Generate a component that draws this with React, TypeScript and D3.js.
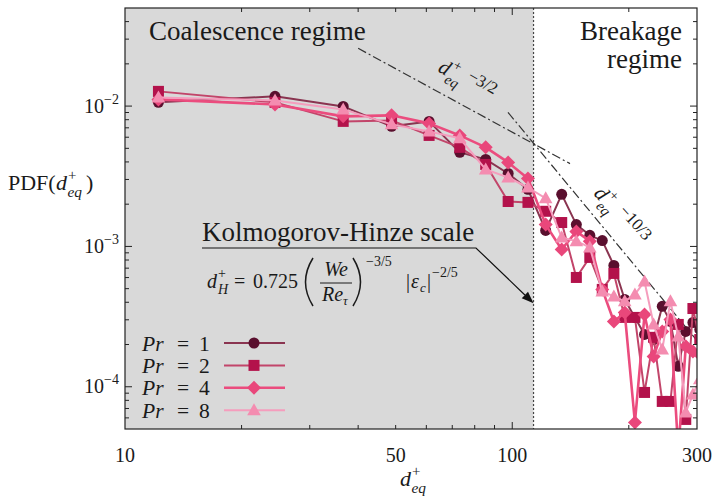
import React from "react";
import * as d3 from "d3";

// bin centres of the equivalent diameter histogram
const dBins = [12.2, 24.4, 36.6, 48.8, 61, 73.2, 85.4, 97.6, 109.8, 122, 134.2, 146.4, 158.6,
  170.8, 183, 195.2, 207.4, 219.6, 231.8, 244, 256.2, 268.4, 280.6, 292.8, 305];

const pdfPr1 = [0.01063, 0.01173, 0.00995, 0.00717, 0.00778, 0.00468, 0.00417, 0.00331, 0.00255,
  0.0013, 0.00235, 0.00143, 0.0012, 0.0011, 0.000732, 0.000419, 0.000312, 0.000236, 0.000217,
  0.000374, 0.000292, 0.00014, 0.000248, 0.000287, 0.000256];
const pdfPr2 = [0.01273, 0.01063, 0.00778, 0.00791, 0.00618, 0.00508, 0.00384, 0.00209, 0.00206,
  0.00178, 0.00148, 0.000601, 0.000835, 0.000494, 0.000642, 0.000312, 0.000312, 0.0000911,
  0.000225, 0.0000786, 0.0000786, 0.000278, 0.0000585, 0.000361, 0.000217];
const pdfPr4 = [0.01116, 0.01028, 0.00845, 0.00859, 0.00753, 0.00618, 0.00508, 0.00397, 0.00305,
  0.00143, 0.000952, 0.00128, 0.00109, 0.000494, 0.000292, 0.000338, 0.0000557, 0.000327,
  0.000164, 0.000248, 0.000302, 0.000035, 0.000194, 0.000178, 0.00017];
const pdfPr8 = [0.01153, 0.01098, 0.00947, 0.00741, 0.0066, 0.00589, 0.00354, 0.0031, 0.00263,
  0.0022, 0.00116, 0.00109, 0.000984, 0.000478, 0.00044, 0.000406, 0.000455, 0.000563, 0.000278,
  0.000184, 0.000406, 0.000228, 0.0000656, 0.0000881, 0.000113];

const prValues = ["1", "2", "4", "8"];
const markerColors = ["#5a0f2e", "#b3124b", "#e9477b", "#f48cb0"];
const lineColors = ["#8a3450", "#c2456a", "#eb4c7e", "#f59dbd"];
const lineWidths = [2, 2, 2.6, 2];
const shapes = ["circle", "square", "diamond", "triangle"];

// Kolmogorov-Hinze scale and the two power-law guides
const hinzeScale = 113.5;
const hinzeArrowY = 3.93e-4;
const guideA = [[40, 0.0258], [141, 0.00389]]; // d^-3/2
const guideB = [[97.5, 0.00902], [300, 0.000213]]; // d^-10/3

const xTickLabels = [10, 50, 100, 300];
const xMajor = [10, 100];
const yTickExps = [-4, -3, -2];

const FONT = "'Liberation Serif', 'Times New Roman', serif";

const xs = d3.scaleLog().domain([10, 300]).range([125, 697]);
const ys = d3.scaleLog().domain([5e-5, 5e-2]).range([429, 8]);

function Marker({ shape, x, y, color }) {
  if (shape === "circle") return <circle cx={x} cy={y} r={5.5} fill={color} />;
  if (shape === "square") return <rect x={x - 5.5} y={y - 5.5} width={11} height={11} fill={color} />;
  if (shape === "diamond")
    return <path d={`M${x},${y - 7}L${x + 7},${y}L${x},${y + 7}L${x - 7},${y}Z`} fill={color} />;
  return <path d={`M${x},${y - 7}L${x + 6.8},${y + 5}L${x - 6.8},${y + 5}Z`} fill={color} />;
}

// d_eq^+ glyph group
function DEq({ x, y, s }) {
  return (
    <g>
      <text x={x} y={y} fontSize={s} fontStyle="italic">d</text>
      <text x={x + 0.55 * s} y={y - 0.47 * s} fontSize={0.68 * s}>+</text>
      <text x={x + 0.52 * s} y={y + 0.33 * s} fontSize={0.7 * s} fontStyle="italic">eq</text>
    </g>
  );
}

export default function App() {
  const series = [pdfPr1, pdfPr2, pdfPr4, pdfPr8];
  const line = d3.line<[number, number]>().x(d => xs(d[0])).y(d => ys(d[1]));
  const [x0, x1] = xs.range();
  const [y0, y1] = [ys.range()[1], ys.range()[0]];
  const xTicks = xs.ticks().filter(t => t > 10 && t < 300);
  const yTicks = ys.ticks().filter(t => t > 5e-5 && t < 5e-2);
  const isMajorY = t => Math.abs(Math.log10(t) - Math.round(Math.log10(t))) < 1e-6;

  const tipX = xs(hinzeScale), tipY = ys(hinzeArrowY);
  const startX = 476, startY = 248;
  const ang = Math.atan2(tipY - startY, tipX - startX);
  const ah = 12, aw = 4.5;
  const bx = tipX - ah * Math.cos(ang), by = tipY - ah * Math.sin(ang);
  const arrowHead = `M${tipX},${tipY}L${bx + aw * Math.sin(ang)},${by - aw * Math.cos(ang)}L${bx - aw * Math.sin(ang)},${by + aw * Math.cos(ang)}Z`;

  return (
    <div style={{ position: "absolute", left: 0, top: 0 }}>
      <svg width={715} height={498} fontFamily={FONT} fill="#1a1a1a">
        <rect width={715} height={498} fill="#fff" />
        <defs>
          <clipPath id="plotClip">
            <rect x={x0} y={y0} width={x1 - x0} height={y1 - y0} />
          </clipPath>
        </defs>

        {/* coalescence region */}
        <rect x={x0} y={y0} width={xs(hinzeScale) - x0} height={y1 - y0} fill="#d9d9d9" />
        <line x1={xs(hinzeScale)} x2={xs(hinzeScale)} y1={y0} y2={y1} stroke="#444" strokeWidth={1.2} strokeDasharray="2,2" />

        {/* power-law guides */}
        {[guideA, guideB].map((g, i) => (
          <path key={i} d={line(g as [number, number][])} stroke="#333" strokeWidth={1.2} fill="none"
            strokeDasharray="9,3,2,3" clipPath="url(#plotClip)" />
        ))}

        {/* data */}
        <g clipPath="url(#plotClip)">
          {series.map((vals, i) => {
            const pts = dBins.map((d, j) => [d, vals[j]] as [number, number]);
            return (
              <g key={i}>
                <path d={line(pts)} stroke={lineColors[i]} strokeWidth={lineWidths[i]} fill="none" strokeLinejoin="round" />
                {pts.map((p, j) => (
                  <Marker key={j} shape={shapes[i]} x={xs(p[0])} y={ys(p[1])} color={markerColors[i]} />
                ))}
              </g>
            );
          })}
        </g>

        {/* frame and ticks */}
        <rect x={x0} y={y0} width={x1 - x0} height={y1 - y0} fill="none" stroke="#222" strokeWidth={1.2} />
        {xTicks.map(t => {
          const len = xMajor.includes(t) ? 7 : 4;
          return (
            <g key={t} stroke="#222" strokeWidth={1}>
              <line x1={xs(t)} x2={xs(t)} y1={y1} y2={y1 - len} />
              <line x1={xs(t)} x2={xs(t)} y1={y0} y2={y0 + len} />
            </g>
          );
        })}
        {yTicks.map(t => {
          const len = isMajorY(t) ? 7 : 4;
          return (
            <g key={t} stroke="#222" strokeWidth={1}>
              <line x1={x0} x2={x0 + len} y1={ys(t)} y2={ys(t)} />
              <line x1={x1} x2={x1 - len} y1={ys(t)} y2={ys(t)} />
            </g>
          );
        })}
        {xTickLabels.map(t => (
          <text key={t} x={xs(t)} y={462} fontSize={20} textAnchor="middle">{t}</text>
        ))}
        {yTickExps.map(e => (
          <text key={e} x={119} y={ys(Math.pow(10, e)) + 6.5} fontSize={20} textAnchor="end">
            10<tspan dy={-9} fontSize={14}>{"\u2212" + Math.abs(e)}</tspan>
          </text>
        ))}

        {/* axis titles */}
        <DEq x={400} y={486} s={22} />
        <text x={8} y={190} fontSize={22}>PDF(</text>
        <DEq x={56} y={190} s={22} />
        <text x={86} y={190} fontSize={22}>)</text>

        {/* regime labels */}
        <text x={149} y={40} fontSize={27}>Coalescence regime</text>
        <text x={682} y={40} fontSize={27} textAnchor="end">Breakage</text>
        <text x={682} y={68} fontSize={27} textAnchor="end">regime</text>

        {/* guide labels */}
        <g transform="translate(437,71) rotate(29)">
          <DEq x={0} y={0} s={21} />
          <text x={30} y={-7} fontSize={17}>{"\u22123/2"}</text>
        </g>
        <g transform="translate(593,194) rotate(48)">
          <DEq x={0} y={0} s={21} />
          <text x={30} y={-7} fontSize={17}>{"\u221210/3"}</text>
        </g>

        {/* Kolmogorov-Hinze annotation */}
        <text x={202} y={241} fontSize={27}>Kolmogorov-Hinze scale</text>
        <path d={`M202,${startY}L${startX},${startY}L${bx},${by}`} stroke="#111" strokeWidth={1.2} fill="none" />
        <path d={arrowHead} fill="#111" />
        <g fontSize={20}>
          <text x={207} y={288} fontStyle="italic">d</text>
          <text x={218} y={278} fontSize={14}>+</text>
          <text x={218} y={294} fontSize={14} fontStyle="italic">H</text>
          <text x={234} y={288}>=</text>
          <text x={253} y={288}>0.725</text>
          <path d="M313,258 Q298,282 313,306" stroke="#1a1a1a" strokeWidth={1.5} fill="none" />
          <text x={336} y={276} fontStyle="italic" textAnchor="middle">We</text>
          <line x1={320} x2={352} y1={283} y2={283} stroke="#1a1a1a" strokeWidth={1} />
          <text x={322} y={301} fontStyle="italic">Re</text>
          <text x={343} y={305} fontSize={13} fontStyle="italic">τ</text>
          <path d="M353,258 Q368,282 353,306" stroke="#1a1a1a" strokeWidth={1.5} fill="none" />
          <text x={366} y={266} fontSize={14}>{"\u22123/5"}</text>
          <text x={406} y={288}>|</text>
          <text x={411} y={288} fontStyle="italic">ε</text>
          <text x={420} y={292} fontSize={13} fontStyle="italic">c</text>
          <text x={427} y={288}>|</text>
          <text x={432} y={277} fontSize={14}>{"\u22122/5"}</text>
        </g>

        {/* legend */}
        {prValues.map((v, i) => {
          const cy = 343 + i * 22.4;
          return (
            <g key={v}>
              <text x={142} y={cy + 7.5} fontSize={21.5}>
                <tspan fontStyle="italic">Pr</tspan>
                <tspan x={177}>=</tspan>
                <tspan x={199}>{v}</tspan>
              </text>
              <line x1={224} x2={285} y1={cy} y2={cy} stroke={lineColors[i]} strokeWidth={lineWidths[i]} />
              <Marker shape={shapes[i]} x={254} y={cy} color={markerColors[i]} />
            </g>
          );
        })}
      </svg>
    </div>
  );
}
